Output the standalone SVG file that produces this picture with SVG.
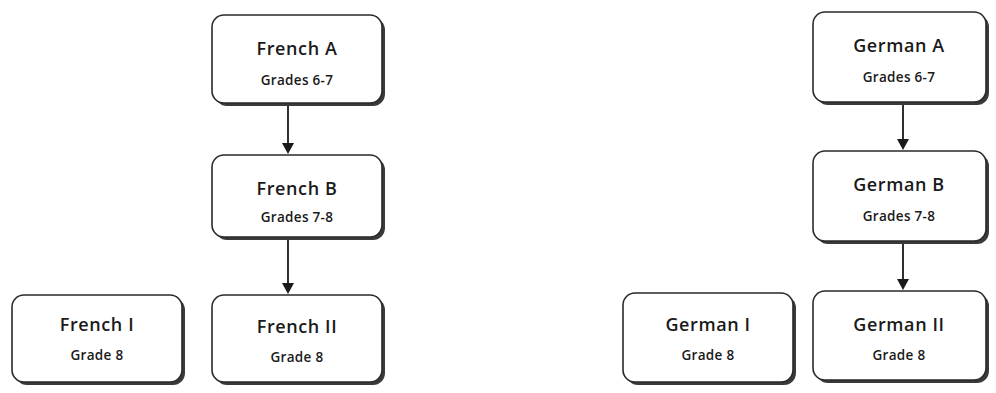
<svg xmlns="http://www.w3.org/2000/svg" width="996" height="393" viewBox="0 0 996 393">
<style>
.shadow{fill:#3a3a3a;}
.box{fill:#ffffff;stroke:#2a2a2a;stroke-width:1.6;}
.t{font-family:"Open Sans","Noto Sans",sans-serif;font-weight:600;font-size:18px;letter-spacing:0.6px;fill:#1a1a1a;text-anchor:middle;}
.s{font-family:"Open Sans","Noto Sans",sans-serif;font-weight:600;font-size:13.5px;letter-spacing:0.3px;fill:#1a1a1a;text-anchor:middle;}
.edge{stroke:#1a1a1a;stroke-width:1.8;fill:none;}
.head{fill:#1a1a1a;}
</style>
<rect width="996" height="393" fill="#ffffff"/>
<g id="connectors">
<line class="edge" x1="288" y1="104" x2="288" y2="146"/>
<path class="head" d="M282,143 L294,143 L288,154 z"/>
<line class="edge" x1="288" y1="238" x2="288" y2="286"/>
<path class="head" d="M282,283 L294,283 L288,294 z"/>
<line class="edge" x1="903" y1="103" x2="903" y2="142"/>
<path class="head" d="M897,139 L909,139 L903,150 z"/>
<line class="edge" x1="903" y1="242" x2="903" y2="282"/>
<path class="head" d="M897,279 L909,279 L903,290 z"/>
</g>
<g id="frenchA">
<rect class="shadow" x="215" y="18" width="170" height="88" rx="12"/>
<rect class="box" x="212" y="15" width="170" height="88" rx="12"/>
<text class="t" x="297" y="55">French A</text>
<text class="s" x="297" y="85">Grades 6-7</text>
</g>
<g id="frenchB">
<rect class="shadow" x="215" y="158" width="170" height="82" rx="12"/>
<rect class="box" x="212" y="155" width="170" height="82" rx="12"/>
<text class="t" x="297" y="195">French B</text>
<text class="s" x="297" y="222">Grades 7-8</text>
</g>
<g id="frenchI">
<rect class="shadow" x="15" y="298" width="170" height="87" rx="12"/>
<rect class="box" x="12" y="295" width="170" height="87" rx="12"/>
<text class="t" x="97" y="331">French I</text>
<text class="s" x="97" y="360">Grade 8</text>
</g>
<g id="frenchII">
<rect class="shadow" x="215" y="298" width="170" height="87" rx="12"/>
<rect class="box" x="212" y="295" width="170" height="87" rx="12"/>
<text class="t" x="297" y="333">French II</text>
<text class="s" x="297" y="362">Grade 8</text>
</g>
<g id="germanA">
<rect class="shadow" x="816" y="15" width="173" height="90" rx="12"/>
<rect class="box" x="813" y="12" width="173" height="90" rx="12"/>
<text class="t" x="899" y="52">German A</text>
<text class="s" x="899" y="82">Grades 6-7</text>
</g>
<g id="germanB">
<rect class="shadow" x="816" y="154" width="173" height="90" rx="12"/>
<rect class="box" x="813" y="151" width="173" height="90" rx="12"/>
<text class="t" x="899" y="191">German B</text>
<text class="s" x="899" y="221">Grades 7-8</text>
</g>
<g id="germanI">
<rect class="shadow" x="626" y="296" width="170" height="89" rx="12"/>
<rect class="box" x="623" y="293" width="170" height="89" rx="12"/>
<text class="t" x="708" y="331">German I</text>
<text class="s" x="708" y="360">Grade 8</text>
</g>
<g id="germanII">
<rect class="shadow" x="816" y="294" width="173" height="89" rx="12"/>
<rect class="box" x="813" y="291" width="173" height="89" rx="12"/>
<text class="t" x="899" y="331">German II</text>
<text class="s" x="899" y="360">Grade 8</text>
</g>
</svg>
